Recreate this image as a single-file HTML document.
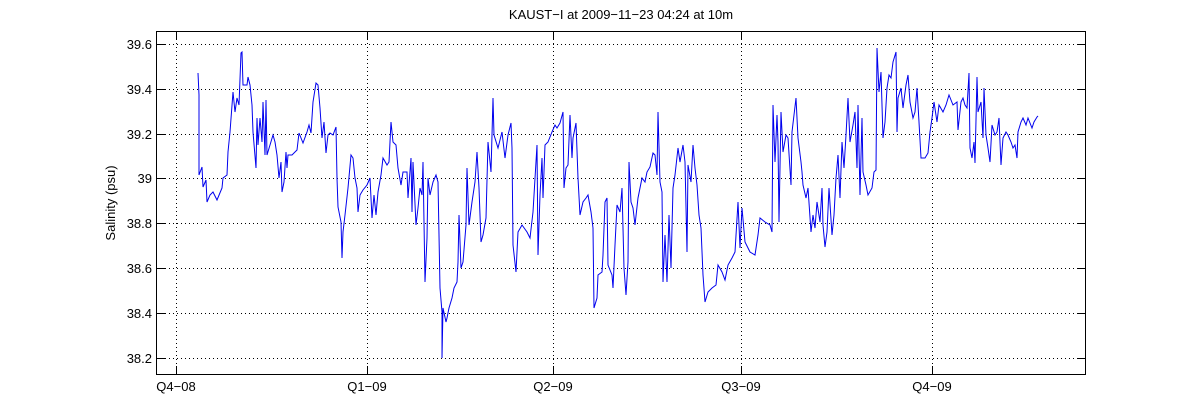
<!DOCTYPE html>
<html><head><meta charset="utf-8"><style>
html,body{margin:0;padding:0;background:#fff;}
svg{display:block;font-family:"Liberation Sans",sans-serif;}
</style></head><body>
<svg width="1200" height="420" xmlns="http://www.w3.org/2000/svg">
<rect width="1200" height="420" fill="#fff"/>
<g stroke="#000" stroke-width="1" stroke-dasharray="1,3" fill="none">
<line x1="157" x2="1086" y1="44.5" y2="44.5"/>
<line x1="157" x2="1086" y1="89.5" y2="89.5"/>
<line x1="157" x2="1086" y1="134.5" y2="134.5"/>
<line x1="157" x2="1086" y1="178.5" y2="178.5"/>
<line x1="157" x2="1086" y1="223.5" y2="223.5"/>
<line x1="157" x2="1086" y1="268.5" y2="268.5"/>
<line x1="157" x2="1086" y1="313.5" y2="313.5"/>
<line x1="157" x2="1086" y1="358.5" y2="358.5"/>
<line x1="176.5" x2="176.5" y1="31" y2="374"/>
<line x1="367.5" x2="367.5" y1="31" y2="374"/>
<line x1="553.5" x2="553.5" y1="31" y2="374"/>
<line x1="741.5" x2="741.5" y1="31" y2="374"/>
<line x1="932.5" x2="932.5" y1="31" y2="374"/>
</g>
<g stroke="#000" stroke-width="1">
<rect x="156.5" y="31.5" width="929" height="343" fill="none"/>
<path d="M176.5 31v8M367.5 31v8M553.5 31v8M741.5 31v8M932.5 31v8M176.5 374v-8M367.5 374v-8M553.5 374v-8M741.5 374v-8M932.5 374v-8M157 44.5h8M157 89.5h8M157 134.5h8M157 178.5h8M157 223.5h8M157 268.5h8M157 313.5h8M157 358.5h8M1086 44.5h-8M1086 89.5h-8M1086 134.5h-8M1086 178.5h-8M1086 223.5h-8M1086 268.5h-8M1086 313.5h-8M1086 358.5h-8"/>
</g>
<polyline fill="none" stroke="#0000ee" stroke-width="1" points="198,73 199,95 199,175 202,167 203,187 206,180 207,202 210,195 213,192 217,200 222,188 223,178 227,175 228,152 230,132 233,92 235,112 237,98 239,105 241,53 242,52 243,85 247,85 248,77 250,85 252,105 253,132 256,168 257,118 258,145 260,118 262,142 263,102 265,155 266,100 267,155 270,145 273,135 275,142 277,155 279,178 281,162 282,192 284,182 286,152 287,168 288,155 292,155 297,150 299,133 303,143 307,132 309,125 311,133 313,102 316,83 318,85 320,108 322,138 324,122 326,153 328,135 330,133 333,135 336,127 337,178 338,207 341,222 342,258 343,232 345,215 348,188 351,155 353,158 355,178 357,188 358,212 360,195 363,190 367,185 370,178 372,218 374,195 376,215 378,192 381,175 383,158 387,165 389,162 391,122 393,142 396,145 398,168 401,185 403,172 407,172 408,198 411,158 412,212 413,162 416,225 418,208 420,188 422,195 423,162 425,282 427,238 428,178 430,195 433,182 436,175 438,182 440,288 442,312 442,358 443,308 446,322 447,318 449,308 452,298 454,288 457,282 458,262 459,215 461,268 463,262 466,225 467,168 469,225 472,202 475,182 477,152 479,188 481,242 483,235 486,218 488,142 490,162 491,172 493,98 494,135 498,148 502,132 505,158 508,135 511,123 512,148 513,245 516,272 518,232 522,225 527,232 530,238 533,212 537,145 538,255 540,195 542,158 543,198 545,145 548,142 552,132 555,125 557,128 560,123 563,112 564,188 566,168 568,165 570,115 572,158 573,138 576,123 578,178 580,215 583,202 586,198 588,195 591,212 593,228 594,308 597,298 598,275 602,272 603,255 605,202 607,198 608,265 612,275 613,288 615,245 617,205 620,212 622,188 624,268 626,295 628,262 629,162 631,202 633,208 635,225 638,198 642,178 645,182 647,172 650,167 653,153 655,155 657,175 658,112 660,182 662,192 663,282 665,235 667,282 669,215 671,268 673,188 675,175 678,148 680,162 683,145 685,162 687,252 688,165 691,182 693,145 695,168 697,185 699,215 701,228 703,275 705,302 708,292 712,288 716,285 718,265 722,272 725,280 728,265 732,258 735,252 738,202 740,248 742,208 745,242 750,252 755,255 758,235 760,218 765,222 770,225 772,232 773,105 775,162 777,115 778,142 779,222 781,112 783,152 786,135 788,138 791,185 792,132 794,115 796,98 798,138 801,162 802,172 803,185 806,198 808,188 811,232 813,215 815,228 817,202 820,222 822,188 823,225 825,247 827,232 829,188 832,235 834,215 836,178 838,155 840,198 842,142 844,168 846,135 848,98 850,142 853,125 855,112 857,168 858,105 860,195 862,118 863,172 866,185 868,195 872,188 874,172 876,170 877,48 879,92 881,72 883,138 885,122 887,88 889,75 891,78 893,62 896,52 897,132 898,98 901,88 903,108 906,85 908,75 910,102 913,118 915,112 917,88 919,122 921,158 925,158 928,153 930,132 932,118 934,102 937,122 939,105 943,112 946,105 949,95 953,105 957,102 958,130 961,102 963,98 965,105 967,108 969,73 970,148 972,158 974,142 975,163 977,77 978,112 981,102 983,138 984,88 986,135 988,148 990,162 992,125 995,135 997,132 999,118 1000,142 1001,165 1003,138 1006,132 1008,135 1011,142 1013,148 1015,145 1017,158 1018,132 1021,122 1023,118 1026,125 1028,118 1032,128 1034,122 1037,117 1038,116"/>
<g font-size="13" fill="#000" text-anchor="end">
<text x="152" y="49">39.6</text>
<text x="152" y="94">39.4</text>
<text x="152" y="139">39.2</text>
<text x="152" y="183">39</text>
<text x="152" y="228">38.8</text>
<text x="152" y="273">38.6</text>
<text x="152" y="318">38.4</text>
<text x="152" y="363">38.2</text>
</g>
<g font-size="13" fill="#000" text-anchor="middle">
<text x="176" y="391">Q4−08</text>
<text x="367" y="391">Q1−09</text>
<text x="553" y="391">Q2−09</text>
<text x="741" y="391">Q3−09</text>
<text x="932" y="391">Q4−09</text>
<text x="621" y="19">KAUST−I at 2009−11−23 04:24 at 10m</text>
<text transform="translate(115,203) rotate(-90)">Salinity (psu)</text>
</g>
</svg>
</body></html>
